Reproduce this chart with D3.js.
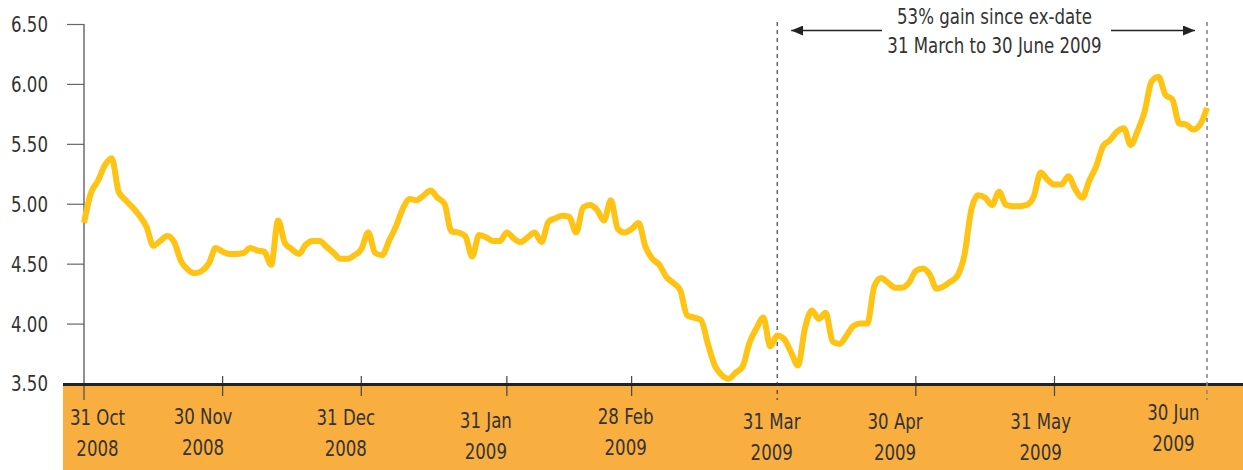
<!DOCTYPE html>
<html>
<head>
<meta charset="utf-8">
<script src="https://cdn.jsdelivr.net/npm/d3@7/dist/d3.min.js"></script>
<style>
  html, body { margin: 0; padding: 0; background: #fff; }
  svg { display: block; }
  text { font-family: "Liberation Sans Narrow", "DejaVu Sans Condensed", "Liberation Sans", sans-serif; fill: #333; }
</style>
</head>
<body>
<svg id="chart" width="1243" height="470"></svg>
<script>
// Closing share price by trading session, 31 Oct 2008 to 30 Jun 2009
const prices = [
  4.84, 5.09, 5.19, 5.32, 5.38, 5.10, 5.03, 4.97, 4.90, 4.81,
  4.65, 4.69, 4.73, 4.68, 4.52, 4.45, 4.42, 4.44, 4.50, 4.63,
  4.60, 4.58, 4.58, 4.59, 4.63, 4.61, 4.60, 4.49, 4.86, 4.67,
  4.62, 4.58, 4.66, 4.69, 4.69, 4.64, 4.59, 4.54, 4.54, 4.57,
  4.62, 4.76, 4.59, 4.57, 4.69, 4.81, 4.96, 5.04, 5.03, 5.07,
  5.11, 5.05, 5.00, 4.77, 4.76, 4.73, 4.56, 4.74, 4.72, 4.69,
  4.69, 4.76, 4.71, 4.68, 4.72, 4.76, 4.68, 4.85, 4.88, 4.90,
  4.89, 4.76, 4.97, 4.99, 4.95, 4.86, 5.03, 4.79, 4.76, 4.79,
  4.84, 4.64, 4.54, 4.49, 4.39, 4.34, 4.28, 4.07, 4.05, 4.03,
  3.83, 3.65, 3.57, 3.54, 3.59, 3.64, 3.84, 3.96, 4.05, 3.81,
  3.90, 3.87, 3.76, 3.65, 3.96, 4.11, 4.04, 4.09, 3.85, 3.83,
  3.90, 3.98, 4.00, 4.00, 4.31, 4.38, 4.34, 4.30, 4.30, 4.34,
  4.44, 4.46, 4.41, 4.29, 4.31, 4.35, 4.40, 4.57, 4.95, 5.07,
  5.05, 4.99, 5.10, 4.99, 4.98, 4.98, 4.99, 5.06, 5.26, 5.20,
  5.16, 5.16, 5.23, 5.12, 5.05, 5.19, 5.31, 5.48, 5.53, 5.60,
  5.63, 5.49, 5.61, 5.77, 6.02, 6.06, 5.91, 5.87, 5.67, 5.66,
  5.62, 5.66, 5.80
];

// Month-end dates on the x axis and the session each one falls on
const tickDay  = ["31 Oct", "30 Nov", "31 Dec", "31 Jan", "28 Feb", "31 Mar", "30 Apr", "31 May", "30 Jun"];
const tickYear = ["2008", "2008", "2008", "2009", "2009", "2009", "2009", "2009", "2009"];
const tickSession = [0, 20, 40, 61, 79, 100, 120, 140, 162];

// Price axis
const yTicks = [3.5, 4.0, 4.5, 5.0, 5.5, 6.0, 6.5];

// Ex-date window for the annotation
const exDateSession = 100;
const endSession = 162;
const noteLines = ["53% gain since ex-date", "31 March to 30 June 2009"];

// ---- layout ----
const W = 1243, H = 470;
const narrow = 0.84;           // horizontal squeeze for the condensed lettering
const svg = d3.select("#chart");

const x = d3.scaleLinear().domain([0, prices.length - 1]).range([84, 1207]);
const y = d3.scaleLinear().domain([3.5, 6.5]).range([383.5, 24]);

const bandTop = 385;

// orange date band
svg.append("rect")
  .attr("x", 63).attr("y", bandTop)
  .attr("width", W - 63).attr("height", H - bandTop)
  .attr("fill", "#F9AE40");

// y axis: ticks from d3, labels squeezed to the condensed face
const yAxis = d3.axisLeft(y)
  .tickValues(yTicks)
  .tickFormat("")
  .tickSize(17);

const gy = svg.append("g").attr("transform", "translate(84,0)").call(yAxis);
gy.select(".domain").remove();
gy.selectAll(".tick line").attr("stroke", "#666").attr("stroke-width", 1.2);

const fmt = d3.format(".2f");
svg.append("g").selectAll("text")
  .data(yTicks)
  .join("text")
  .attr("transform", d => `translate(48,${y(d)}) scale(${narrow},1)`)
  .attr("dy", "0.36em")
  .attr("text-anchor", "end")
  .attr("font-size", 22)
  .text(d => fmt(d));

svg.append("line")
  .attr("x1", 84).attr("x2", 84)
  .attr("y1", y(6.5)).attr("y2", 400)
  .attr("stroke", "#555").attr("stroke-width", 1.3);

// x ticks crossing the base line
svg.append("g").selectAll("line")
  .data(tickSession.slice(1, -1).filter(s => s !== exDateSession))
  .join("line")
  .attr("x1", d => x(d)).attr("x2", d => x(d))
  .attr("y1", 376).attr("y2", 396)
  .attr("stroke", "#444").attr("stroke-width", 1.2);

// base line
svg.append("line")
  .attr("x1", 63).attr("x2", W)
  .attr("y1", 384.5).attr("y2", 384.5)
  .attr("stroke", "#222").attr("stroke-width", 3);

// x labels, two lines each
const labelShift = [13.5, -19.6, -15.5, -21, -6, -5.5, -20.8, -13.8, -33.6];
const labelLift  = [0, -1, 0, 3, -1, 4, 4, 4, -5];
const xl = svg.append("g").selectAll("g")
  .data(tickDay.map((d, i) => ({ day: d, year: tickYear[i], s: tickSession[i], i })))
  .join("g")
  .attr("transform", d => `translate(${x(d.s) + labelShift[d.i]},${labelLift[d.i]}) scale(${narrow},1)`);
xl.append("text")
  .attr("y", 425).attr("text-anchor", "middle").attr("font-size", 22)
  .text(d => d.day);
xl.append("text")
  .attr("y", 456).attr("text-anchor", "middle").attr("font-size", 22)
  .text(d => d.year);

// dashed markers for the ex-date window
svg.append("line")
  .attr("x1", x(exDateSession)).attr("x2", x(exDateSession))
  .attr("y1", 22).attr("y2", 400)
  .attr("stroke", "#333").attr("stroke-width", 1.1)
  .attr("stroke-dasharray", "4,4");
svg.append("line")
  .attr("x1", x(endSession)).attr("x2", x(endSession))
  .attr("y1", 22).attr("y2", 400)
  .attr("stroke", "#888").attr("stroke-width", 1.6)
  .attr("stroke-dasharray", "4,4");

// price line
const line = d3.line()
  .x((d, i) => x(i))
  .y(d => y(d))
  .curve(d3.curveMonotoneX);

svg.append("path")
  .datum(prices)
  .attr("d", line)
  .attr("fill", "none")
  .attr("stroke", "#FFC314")
  .attr("stroke-width", 6)
  .attr("stroke-linejoin", "round")
  .attr("stroke-linecap", "butt");

// annotation arrows and text
const defs = svg.append("defs");
defs.append("marker")
  .attr("id", "head")
  .attr("viewBox", "0 0 12 10")
  .attr("refX", 12).attr("refY", 5)
  .attr("markerWidth", 12).attr("markerHeight", 10)
  .attr("markerUnits", "userSpaceOnUse")
  .attr("orient", "auto")
  .append("path").attr("d", "M0,0 L12,5 L0,10 Z").attr("fill", "#222");

const arrowY = 30.5;
svg.append("line")
  .attr("x1", 882).attr("x2", x(exDateSession) + 14)
  .attr("y1", arrowY).attr("y2", arrowY)
  .attr("stroke", "#222").attr("stroke-width", 1.3)
  .attr("marker-end", "url(#head)");
svg.append("line")
  .attr("x1", 1111).attr("x2", x(endSession) - 12)
  .attr("y1", arrowY).attr("y2", arrowY)
  .attr("stroke", "#222").attr("stroke-width", 1.3)
  .attr("marker-end", "url(#head)");

svg.append("g")
  .attr("transform", `translate(994.5,0) scale(${narrow},1)`)
  .selectAll("text")
  .data(noteLines)
  .join("text")
  .attr("x", 0)
  .attr("y", (d, i) => 24 + i * 29.5)
  .attr("text-anchor", "middle")
  .attr("font-size", 22)
  .text(d => d);
</script>
</body>
</html>
